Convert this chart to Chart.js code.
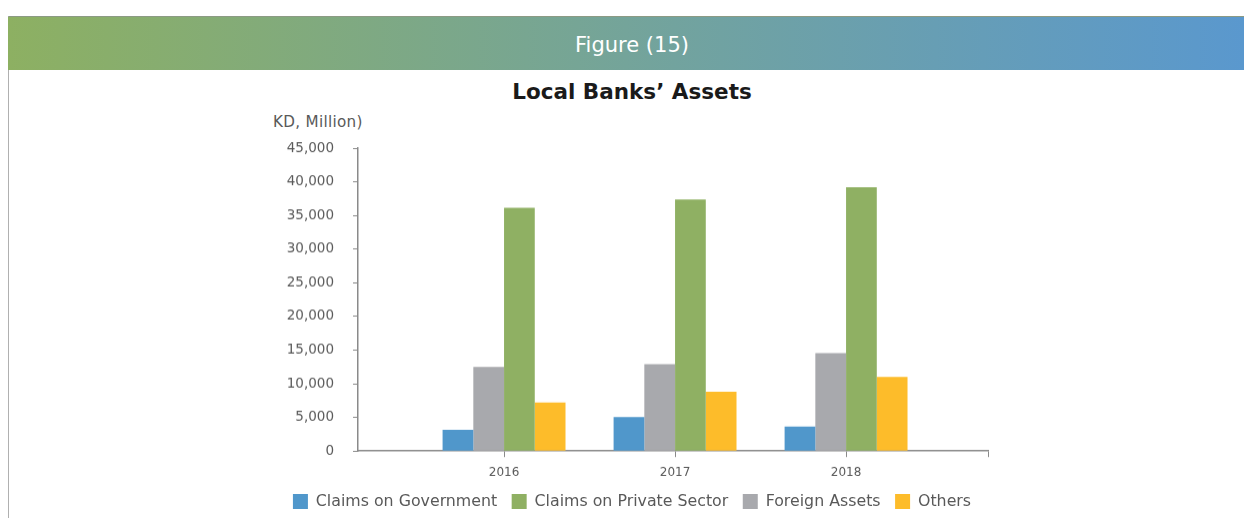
<!DOCTYPE html>
<html>
<head>
<meta charset="utf-8">
<script src="https://cdn.jsdelivr.net/npm/chart.js@4"></script>
<style>
    html, body { margin: 0; padding: 0; background: #fff; }
    body { width: 1244px; height: 518px; position: relative; overflow: hidden; font-family: "DejaVu Sans", sans-serif; }
    .panel { position: absolute; left: 8px; top: 16px; right: 0; bottom: 0; border-left: 1px solid #b0b0b0; border-top: 1px solid #8c9a84; }
    .band { position: absolute; left: 8px; top: 17px; width: 1236px; height: 53px; background: linear-gradient(to right, #8DB062, #74A49A 50%, #5A98CE); }
    .band span { position: absolute; left: 0; width: 100%; top: 16px; text-align: center; color: #fff; font-size: 21px; padding-left: 12px; box-sizing: border-box; }
    .title { position: absolute; left: 20px; width: 1224px; top: 79px; text-align: center; font-weight: bold; font-size: 21.5px; color: #1a1a1a; }
    .unit { position: absolute; left: 273px; top: 113px; font-size: 15.2px; letter-spacing: 0.3px; color: #595959; }
    .wrap { position: absolute; left: 20px; top: 100px; width: 1224px; height: 418.5px; }
</style>
</head>
<body>
<div class="panel"></div>
<div class="band"><span>Figure (15)</span></div>
<div class="title">Local Banks’ Assets</div>
<div class="unit">KD, Million)</div>
<div class="wrap"><canvas id="assets"></canvas></div>
<script>
document.addEventListener("DOMContentLoaded", () => {
    const years = [2016, 2017, 2018];
    const government = [3150, 5050, 3650];
    const foreign = [12500, 12900, 14550];
    const privateSector = [36150, 37350, 39200];
    const others = [7200, 8800, 11000];
    const yTicks = [0, 5000, 10000, 15000, 20000, 25000, 30000, 35000, 40000, 45000];

    // legend lists the series in a different order than the bars are grouped
    const legendOrder = ["Claims on Government", "Claims on Private Sector", "Foreign Assets", "Others"];

    const xMin = 2015.146;
    const xMax = 2018.83;
    const axisColour = "#8a8a8a";
    const textColour = "#595959";

    function toPoints(values) {
        return years.map((yr, i) => ({ x: yr, y: values[i] }));
    }

    const dataSets = [
        { label: "Claims on Government", data: toPoints(government), backgroundColor: "#5097CB" },
        { label: "Foreign Assets", data: toPoints(foreign), backgroundColor: "#A8A9AD" },
        { label: "Claims on Private Sector", data: toPoints(privateSector), backgroundColor: "#8FB063" },
        { label: "Others", data: toPoints(others), backgroundColor: "#FDBC2A" }
    ];
    for (const d of dataSets) {
        d.borderWidth = 0;
        // the last tick sits closer than a year, so the group is sized from that gap
        d.categoryPercentage = 0.866;
        d.barPercentage = 1.0;
    }

    const ctx = document.getElementById("assets").getContext("2d");
    new Chart(ctx, {
        type: "bar",
        data: { datasets: dataSets },
        options: {
            responsive: true, maintainAspectRatio: false, animation: false,
            layout: { padding: { top: 48, bottom: 0 } },
            scales: {
                x: {
                    type: "linear", min: xMin, max: xMax, offset: false,
                    afterBuildTicks: (scale) => {
                        scale.ticks = years.concat([xMax]).map(v => ({ value: v }));
                    },
                    afterFit: (scale) => { scale.height = 28; },
                    grid: { offset: false, drawOnChartArea: false, tickLength: 6, color: axisColour },
                    border: { color: axisColour, width: 1.5 },
                    ticks: {
                        color: textColour, padding: 8, maxRotation: 0,
                        font: { family: "DejaVu Sans", size: 12 },
                        callback: (v) => years.includes(v) ? String(v) : ""
                    }
                },
                y: {
                    min: 0, max: 45000,
                    afterBuildTicks: (scale) => {
                        scale.ticks = yTicks.map(v => ({ value: v }));
                    },
                    afterFit: (scale) => { scale.width = 338; },
                    grid: { drawOnChartArea: false, tickLength: 5, color: axisColour },
                    border: { color: axisColour, width: 1.5 },
                    ticks: {
                        color: textColour, padding: 19,
                        font: { family: "DejaVu Sans", size: 13.5 },
                        callback: (v) => v.toLocaleString("en-US")
                    }
                },
                // empty right-hand axis, keeps the plot narrower than the page
                yRight: {
                    position: "right", display: true,
                    grid: { display: false }, border: { display: false },
                    ticks: { display: false },
                    afterFit: (scale) => { scale.width = 256; }
                }
            },
            plugins: {
                legend: {
                    display: true, position: "bottom",
                    labels: {
                        boxWidth: 15, boxHeight: 15, padding: 14.5, color: textColour,
                        font: { family: "DejaVu Sans", size: 15.8 },
                        sort: (a, b) => legendOrder.indexOf(a.text) - legendOrder.indexOf(b.text)
                    }
                },
                tooltip: { enabled: false }
            }
        }
    });
});
</script>
</body>
</html>
